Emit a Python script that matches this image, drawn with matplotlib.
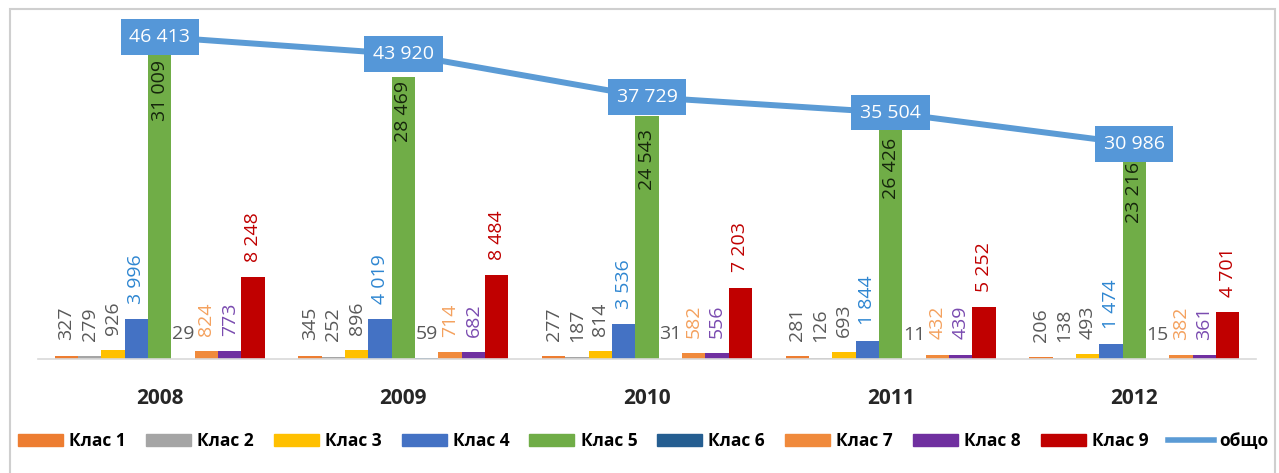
import matplotlib.pyplot as plt
import numpy as np
from matplotlib.patches import Rectangle
from matplotlib.lines import Line2D

plt.rcParams['font.family'] = ['Open Sans', 'DejaVu Sans']

# Students per class, 2008-2012
years = ['2008', '2009', '2010', '2011', '2012']
klas1 = [327, 345, 277, 281, 206]
klas2 = [279, 252, 187, 126, 138]
klas3 = [926, 896, 814, 693, 493]
klas4 = [3996, 4019, 3536, 1844, 1474]
klas5 = [31009, 28469, 24543, 26426, 23216]
klas6 = [29, 59, 31, 11, 15]
klas7 = [824, 714, 582, 432, 382]
klas8 = [773, 682, 556, 439, 361]
klas9 = [8248, 8484, 7203, 5252, 4701]
total = [46413, 43920, 37729, 35504, 30986]

series = [klas1, klas2, klas3, klas4, klas5, klas6, klas7, klas8, klas9]
names = ['Клас %d' % i for i in range(1, 10)]
colors = ['#ED7D31', '#A5A5A5', '#FFC000', '#4472C4', '#70AD47',
          '#255E91', '#F08A3C', '#7030A0', '#C00000']
label_colors = ['#595959', '#595959', '#595959', '#2E86D1', '#15250C',
                '#595959', '#F4A15E', '#7A4BB0', '#C00000']
line_color = '#5B9BD5'


def fmt(v):
    return f'{v:,}'.replace(',', ' ')


W, H = 1279, 473
fig = plt.figure(figsize=(W / 100, H / 100), dpi=100)

# chart border
fig.patches.append(Rectangle((10 / W, -0.02), 1265 / W, 1.02 - 9 / H,
                             transform=fig.transFigure, fill=False,
                             edgecolor='#CFCFCF', lw=1.5))

ax = fig.add_axes([38 / W, (H - 359) / H, 1218 / W, 347 / H])
ax2 = ax.twinx()

x = np.arange(len(years))
n = len(series)
w = 0.862 / n

for i, (vals, c, lc) in enumerate(zip(series, colors, label_colors)):
    pos = x + (i - (n - 1) / 2) * w
    ax.bar(pos, vals, width=w, color=c, zorder=2)
    for j, (p, v) in enumerate(zip(pos, vals)):
        if i == 4:
            continue
        if i == 5:
            ax.annotate(fmt(v), (p, v), xytext=(0, 11), textcoords='offset points',
                        ha='center', va='bottom', fontsize=14, color=lc)
        else:
            ax.annotate(fmt(v), (p, v), xytext=(0, 11), textcoords='offset points',
                        ha='center', va='bottom', rotation=90, fontsize=14, color=lc)

# labels inside the tall Клас 5 bars
green_label_drop = [6, 3, 10, 29, 24]
pos5 = x + (4 - (n - 1) / 2) * w
for p, v, d in zip(pos5, klas5, green_label_drop):
    ax.annotate(fmt(v), (p, v), xytext=(0, -d), textcoords='offset points',
                ha='center', va='top', rotation=90, fontsize=14,
                color=label_colors[4], zorder=3)

ax.set_xlim(-0.5, len(years) - 0.5)
ax.set_ylim(0, 35000)
ax2.set_ylim(0, 50000)

ax2.plot(x, total, color=line_color, lw=4.3, zorder=4, solid_capstyle='round')
for xi, v in zip(x, total):
    ax2.text(xi, v, fmt(v), ha='center', va='center', fontsize=14, color='white',
             zorder=5,
             bbox=dict(boxstyle='square,pad=0.45', fc='#5597D8', ec='none'))

ax.set_xticks(x)
ax.set_xticklabels(years, fontsize=15, fontweight='bold', color='#262626')
ax.tick_params(axis='x', length=0, pad=21)
ax.set_yticks([])
ax2.set_yticks([])
for a in (ax, ax2):
    for s in ('top', 'left', 'right'):
        a.spines[s].set_visible(False)
ax2.spines['bottom'].set_visible(False)
ax.spines['bottom'].set_color('#D9D9D9')
ax.spines['bottom'].set_linewidth(1.2)
ax.set_zorder(1)
ax2.set_zorder(2)
ax.patch.set_visible(False)
ax2.patch.set_visible(False)

handles = [Rectangle((0, 0), 1, 1, color=c) for c in colors]
handles.append(Line2D([0], [0], color=line_color, lw=4))
fig.legend(handles, names + ['общо'], loc='center left',
           bbox_to_anchor=(18 / W, 1 - 441 / H), ncol=10, frameon=False,
           prop={'size': 12.5, 'weight': 'bold'}, handlelength=2.6,
           handletextpad=0.35, columnspacing=1.15, borderpad=0, borderaxespad=0)

fig.savefig('out.png', dpi=100)
